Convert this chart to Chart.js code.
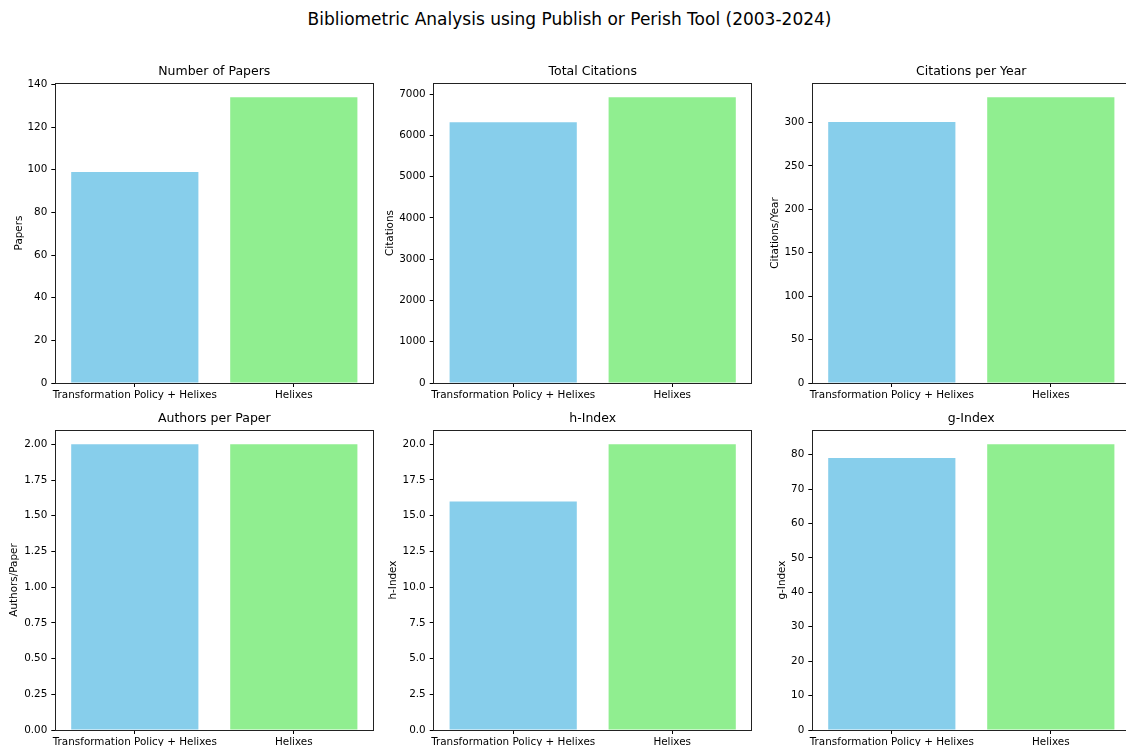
<!DOCTYPE html>
<html>
<head>
<meta charset="utf-8">
<script src="https://cdn.jsdelivr.net/npm/chart.js@4.4.1/dist/chart.umd.min.js"></script>
<style>
  html, body { margin: 0; padding: 0; background: #fff; width: 1126px; height: 746px; overflow: hidden; position: relative; }
  canvas { position: absolute; }
  #suptitle {
    position: absolute; left: 569.5px; top: 8.5px; transform: translateX(-50%);
    font: 17px/20px "DejaVu Sans", sans-serif; white-space: nowrap; color: #000;
  }
</style>
</head>
<body>
<div id="suptitle">Bibliometric Analysis using Publish or Perish Tool (2003-2024)</div>
<canvas id="p0"></canvas>
<canvas id="p1"></canvas>
<canvas id="p2"></canvas>
<canvas id="p3"></canvas>
<canvas id="p4"></canvas>
<canvas id="p5"></canvas>
<script>
// Groups compared in every panel
const groups = ['Transformation Policy + Helixes', 'Helixes'];

// Metric values per group
const papers = [99, 134];
const citations = [6320, 6925];
const citationsPerYear = [300.5, 329];
const authorsPerPaper = [2, 2];
const hIndex = [16, 20];
const gIndex = [79, 83];

// Panel titles and y-axis labels
const panelTitles = ['Number of Papers', 'Total Citations', 'Citations per Year', 'Authors per Paper', 'h-Index', 'g-Index'];
const yAxisLabels = ['Papers', 'Citations', 'Citations/Year', 'Authors/Paper', 'h-Index', 'g-Index'];

// Tick spacing and decimals of the y tick labels per panel
const tickSteps = [20, 1000, 50, 0.25, 2.5, 10];
const tickDecimals = [0, 0, 0, 2, 1, 0];

const panelValues = [papers, citations, citationsPerYear, authorsPerPaper, hIndex, gIndex];

// ---- styling / layout ----
const FONT = 'DejaVu Sans';
const BAR_COLORS = ['#87CEEB', '#90EE90'];
const INK = '#000';
const PLOT_LEFT = [55.3, 433.7, 812.3];   // left edge of each column's plot box
const PLOT_TOP = [83, 430];               // top edge of each row's plot box
const PLOT_W = 318, PLOT_H = 300;
const YLABEL_X = [[19, 390, 775.5], [14, 393, 782.5]];
const CANVAS_X = [0, 380, 760];
const CANVAS_W = 380;
const CANVAS_BOTTOM = [410, 746];
const TITLE_BLOCK = 19;                   // 12.5px * 1.2 + 4px gap

// Draws the four spines round the plot area
const framePlugin = {
  id: 'frame',
  afterDraw(chart) {
    const a = chart.chartArea, ctx = chart.ctx;
    const x0 = Math.floor(a.left) + 0.5, x1 = Math.floor(a.right) + 0.5;
    const y0 = Math.floor(a.top) + 0.5, y1 = Math.floor(a.bottom) + 0.5;
    ctx.save();
    ctx.strokeStyle = '#222';
    ctx.lineWidth = 1;
    ctx.strokeRect(x0, y0, x1 - x0, y1 - y0);
    ctx.restore();
  }
};

function buildPanel(i) {
  const row = Math.floor(i / 3), col = i % 3;
  const L = PLOT_LEFT[col], T = PLOT_TOP[row];
  const R = L + PLOT_W, B = T + PLOT_H;
  const cx = CANVAS_X[col], cy = T - TITLE_BLOCK;
  const cw = CANVAS_W, ch = CANVAS_BOTTOM[row] - cy;
  const ylx = YLABEL_X[row][col];
  const yTitleHalf = 10.4 * 1.2 / 2;
  const padLeft = ylx - yTitleHalf - cx;
  const yWidth = L - (cx + padLeft);
  const padRight = cx + cw - R;
  const xHeight = cy + ch - B;

  const canvas = document.getElementById('p' + i);
  canvas.width = cw; canvas.height = ch;
  canvas.style.left = cx + 'px'; canvas.style.top = cy + 'px';
  canvas.style.width = cw + 'px'; canvas.style.height = ch + 'px';

  const values = panelValues[i];
  const yMax = Math.max(...values) * 1.05;   // 5% headroom above the tallest bar
  const step = tickSteps[i];
  const dec = tickDecimals[i];

  new Chart(canvas, {
    type: 'bar',
    data: {
      labels: groups,
      datasets: [{
        data: values,
        backgroundColor: BAR_COLORS,
        borderWidth: 0,
        barPercentage: 1,
        categoryPercentage: 0.8
      }]
    },
    options: {
      responsive: false,
      animation: false,
      devicePixelRatio: 1,
      layout: { padding: { left: padLeft, right: padRight, top: 0, bottom: 0 } },
      plugins: {
        legend: { display: false },
        tooltip: { enabled: false },
        title: {
          display: true,
          fullSize: false,
          text: panelTitles[i],
          color: INK,
          font: { family: FONT, size: 12.5, weight: 'normal', lineHeight: 1.2 },
          padding: { top: 0, bottom: 4 }
        }
      },
      scales: {
        x: {
          offset: true,
          grid: { offset: false, drawOnChartArea: false, drawTicks: true, tickLength: 4, tickColor: INK, tickWidth: 1 },
          border: { display: false },
          ticks: { color: INK, padding: 2, maxRotation: 0, minRotation: 0, autoSkip: false,
                   font: { family: FONT, size: 10.4 } },
          afterFit(s) { s.height = xHeight; }
        },
        y: {
          min: 0,
          max: yMax,
          bounds: 'data',
          grid: { drawOnChartArea: false, drawTicks: true, tickLength: 4, tickColor: INK, tickWidth: 1 },
          border: { display: false },
          ticks: {
            color: INK,
            padding: 4,
            autoSkip: false,
            font: { family: FONT, size: 10.4 },
            callback: v => Number(v).toFixed(dec)
          },
          // ticks at every multiple of the step that lies inside the axis range
          afterBuildTicks(s) {
            const t = [];
            for (let k = 0; k * step <= yMax + 1e-9; k++) t.push({ value: Number((k * step).toFixed(6)) });
            s.ticks = t;
          },
          title: {
            display: true,
            text: yAxisLabels[i],
            color: INK,
            font: { family: FONT, size: 10.4, lineHeight: 1.2 },
            padding: { top: 0, bottom: 0 }
          },
          afterFit(s) { s.width = yWidth; }
        }
      }
    },
    plugins: [framePlugin]
  });
}

for (let i = 0; i < 6; i++) buildPanel(i);
</script>
</body>
</html>
